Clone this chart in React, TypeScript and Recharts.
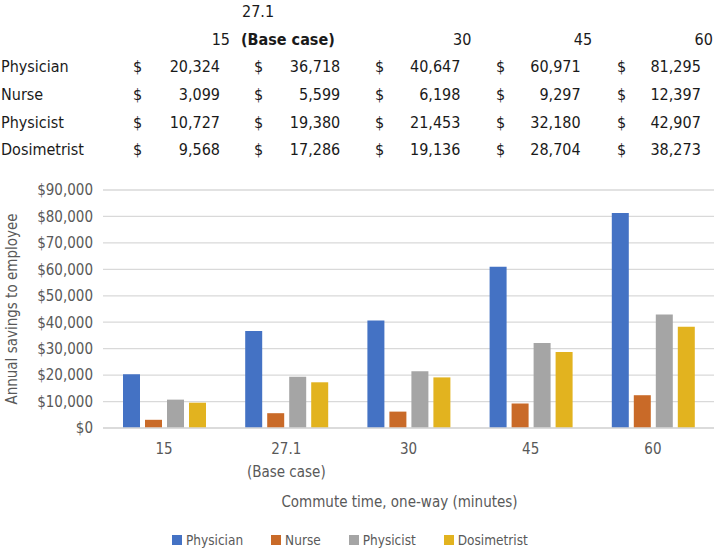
import React from 'react';
import { BarChart, Bar, XAxis, YAxis, CartesianGrid, Legend } from 'recharts';

const categories = ['15', '27.1', '30', '45', '60'];
const categorySubLabels = ['', '(Base case)', '', '', ''];
const seriesNames = ['Physician', 'Nurse', 'Physicist', 'Dosimetrist'];
const physician = [20324, 36718, 40647, 60971, 81295];
const nurse = [3099, 5599, 6198, 9297, 12397];
const physicist = [10727, 19380, 21453, 32180, 42907];
const dosimetrist = [9568, 17286, 19136, 28704, 38273];
const yTicks = [0, 10000, 20000, 30000, 40000, 50000, 60000, 70000, 80000, 90000];
const colors = ['#4472C4', '#C96A28', '#A5A5A5', '#E2B31F'];

const seriesValues = [physician, nurse, physicist, dosimetrist];
const data = categories.map((c, i) => ({
  cat: c,
  sub: categorySubLabels[i],
  Physician: physician[i],
  Nurse: nurse[i],
  Physicist: physicist[i],
  Dosimetrist: dosimetrist[i],
}));

const FONT = "'DejaVu Sans Condensed', 'DejaVu Sans', 'Noto Sans', sans-serif";
const TXT = '#595959';
const fmt = (v: number) => v.toLocaleString('en-US');

const Table = () => {
  const rowCenters = [67, 95, 122.5, 150];
  const cell = (left: number | null, right: number | null, center: number, text: string, bold = false, key?: string) => (
    <div
      key={key}
      style={{
        position: 'absolute',
        top: center - 12,
        height: 24,
        lineHeight: '24px',
        left: left !== null ? left : undefined,
        right: right !== null ? 715 - right : undefined,
        whiteSpace: 'nowrap',
        fontWeight: bold ? 700 : 400,
      }}
    >
      {text}
    </div>
  );
  const items: React.ReactNode[] = [];
  categories.forEach((c, i) => {
    if (categorySubLabels[i]) {
      items.push(cell(242, null, 12, c, false, 'h1' + i));
      items.push(cell(241, null, 40, categorySubLabels[i], true, 'h2' + i));
    } else {
      items.push(cell(null, 230 + 120.7 * i, 40, c, false, 'h' + i));
    }
  });
  seriesNames.forEach((name, r) => {
    items.push(cell(1, null, rowCenters[r], name, false, 'n' + r));
    seriesValues[r].forEach((v, i) => {
      items.push(cell(133 + 121 * i, null, rowCenters[r], '$', false, 'd' + r + i));
      items.push(cell(null, 220 + 120.2 * i, rowCenters[r], fmt(v), false, 'v' + r + i));
    });
  });
  return (
    <div style={{ position: 'absolute', left: 0, top: 0, width: 715, height: 170, fontFamily: FONT, fontSize: 16, color: '#1a1a1a' }}>
      {items}
    </div>
  );
};

const XTick = (props: any) => {
  const { x, y, payload } = props;
  const idx = categories.indexOf(payload.value);
  const sub = categorySubLabels[idx];
  return (
    <text x={x} y={y} textAnchor="middle" fill={TXT} fontFamily={FONT} fontSize={15}>
      <tspan x={x} dy={18}>{payload.value}</tspan>
      {sub ? <tspan x={x} dy={23}>{sub}</tspan> : null}
    </text>
  );
};

const YTitle = (props: any) => {
  const vb = props.viewBox || {};
  const cx = vb.x + 12;
  const cy = vb.y + vb.height / 2;
  return (
    <text x={cx} y={cy} transform={`rotate(-90, ${cx}, ${cy})`} textAnchor="middle" dominantBaseline="central" fill={TXT} fontFamily={FONT} fontSize={15}>
      Annual savings to employee
    </text>
  );
};

const XTitle = (props: any) => {
  const vb = props.viewBox || {};
  const cx = vb.x + vb.width / 2 - 9;
  const cy = vb.y + 74;
  return (
    <text x={cx} y={cy} textAnchor="middle" dominantBaseline="central" fill={TXT} fontFamily={FONT} fontSize={15}>
      Commute time, one-way (minutes)
    </text>
  );
};

const LegendContent = () => (
  <div style={{ display: 'flex', alignItems: 'center', fontFamily: FONT, fontSize: 13.5, color: TXT, whiteSpace: 'nowrap' }}>
    {seriesNames.map((n, i) => (
      <div key={n} style={{ display: 'flex', alignItems: 'center', marginRight: i < 3 ? 28 : 0 }}>
        <div style={{ width: 10, height: 10, background: colors[i], marginRight: 4 }} />
        <span>{n}</span>
      </div>
    ))}
  </div>
);

export default function App() {
  return (
    <div style={{ position: 'absolute', left: 0, top: 0, width: 715, height: 552, background: '#fff' }}>
      <Table />
      <div style={{ position: 'absolute', left: 0, top: 0 }}>
        <BarChart width={715} height={552} data={data} margin={{ top: 190, right: 1, bottom: 0, left: 0 }} barSize={17} barGap={5}>
          <CartesianGrid vertical={false} stroke="#D9D9D9" strokeWidth={1.3} />
          <XAxis
            dataKey="cat"
            height={124}
            tickLine={false}
            axisLine={{ stroke: '#D9D9D9', strokeWidth: 1.3 }}
            tick={<XTick />}
            interval={0}
            label={<XTitle />}
          />
          <YAxis
            width={103}
            domain={[0, 90000]}
            ticks={yTicks}
            axisLine={false}
            tickLine={false}
            tickMargin={4}
            tickFormatter={(v: number) => '$' + fmt(v)}
            tick={{ fill: TXT, fontFamily: FONT, fontSize: 15 }}
            label={<YTitle />}
          />
          <Legend
            layout="horizontal"
            verticalAlign="middle"
            align="center"
            wrapperStyle={{ top: 532, left: 172, width: 'auto' }}
            content={<LegendContent />}
          />
          {seriesNames.map((n, i) => (
            <Bar key={n} dataKey={n} fill={colors[i]} isAnimationActive={false} />
          ))}
        </BarChart>
      </div>
    </div>
  );
}
